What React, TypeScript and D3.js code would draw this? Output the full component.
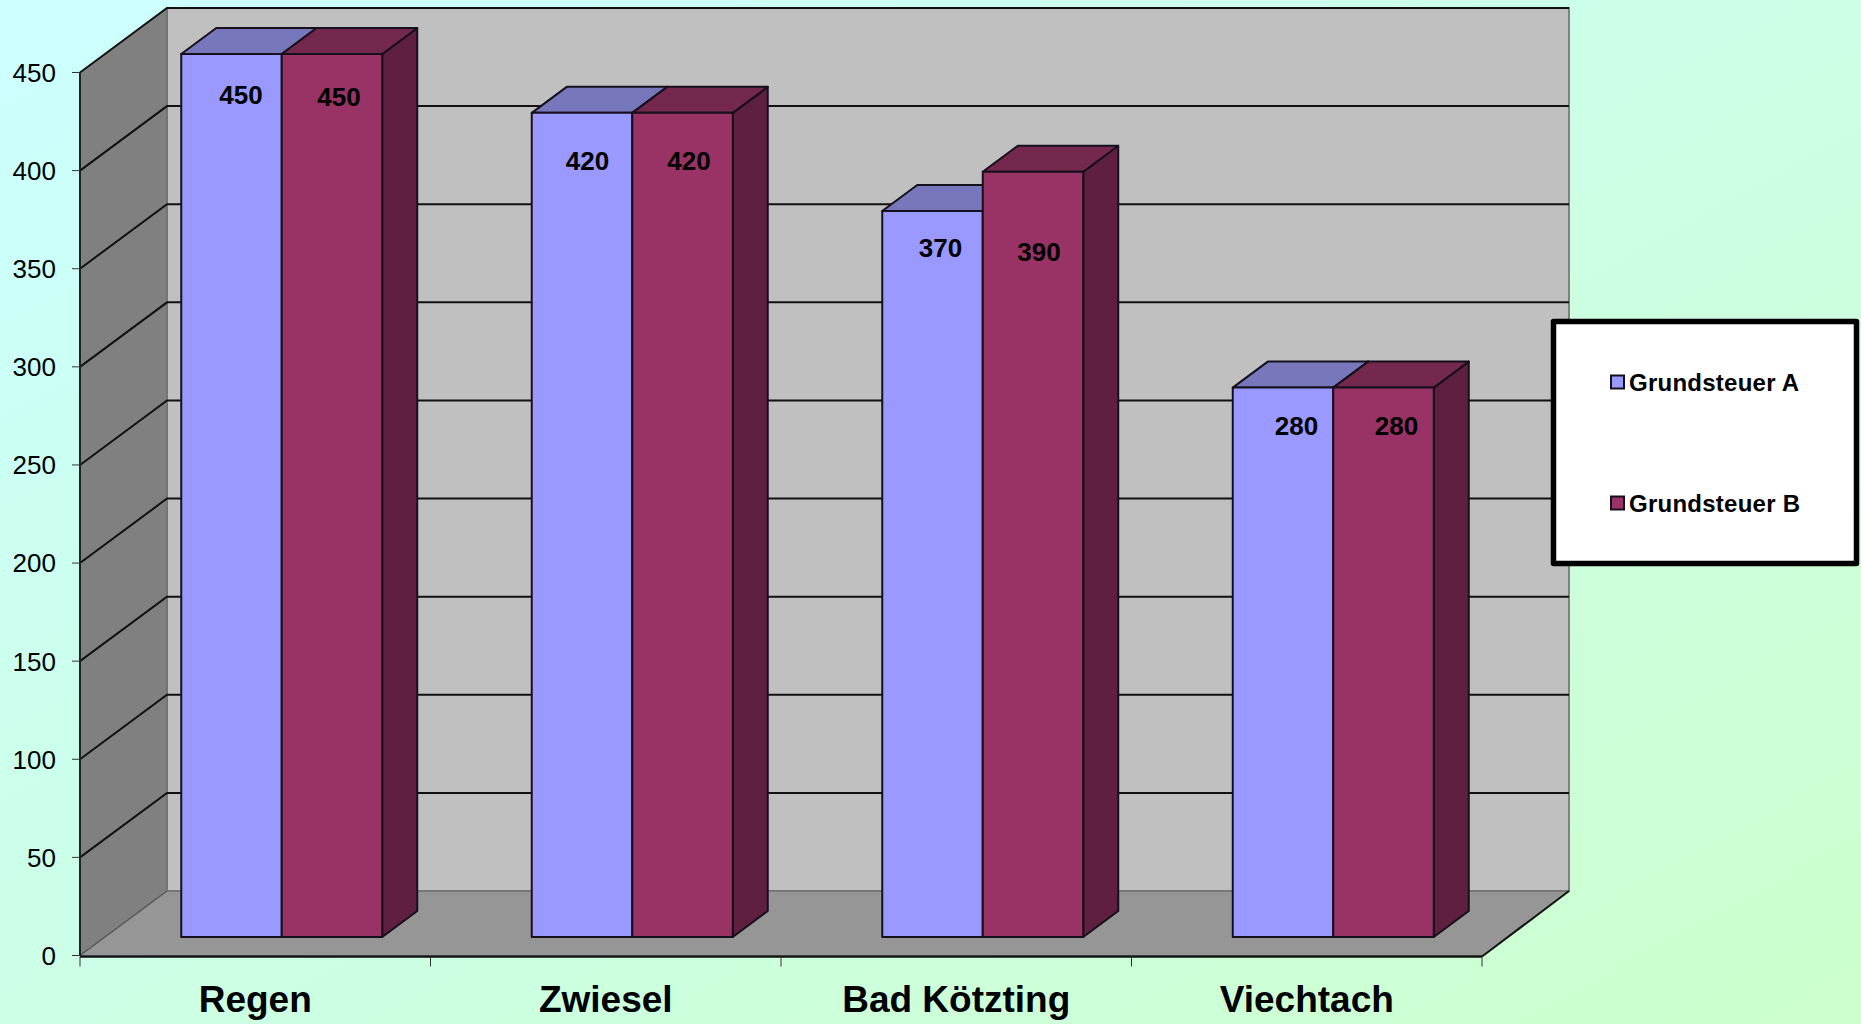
import React from "react";
import * as d3 from "d3";

const categories = ["Regen", "Zwiesel", "Bad Kötzting", "Viechtach"];
const seriesNames = ["Grundsteuer A", "Grundsteuer B"];
const grundsteuerA = [450, 420, 370, 280];
const grundsteuerB = [450, 420, 390, 280];
const yTicks = [0, 50, 100, 150, 200, 250, 300, 350, 400, 450];

const W = 1861, H = 1024;
const FONT = "'Liberation Sans', Arial, sans-serif";
const INK = "#15101c";
const depth = { dx: 87, dy: -64.5 };
const barFront = { dx: 26.5, dy: -18.5 };
const barDepth = { dx: 35, dy: -26 };
const fills = [
  { front: "#9999ff", top: "#7777bb", side: "#5a5a99" },
  { front: "#993366", top: "#75284e", side: "#5f1f3f" },
];
// label nudges relative to the bar's top-centre, [series][category]
const labelDX = [[9.5, 5.5, 8, 13.5], [7, 6.5, 6, 13]];
const labelDY = [[40.5, 47.4, 36.8, 38.2], [42.5, 47.4, 80, 38.2]];

const x = d3.scaleBand<string>().domain(categories).range([80, 1482]);
const y = d3.scaleLinear().domain([0, 450]).range([955.5, 72.5]);
const values = [grundsteuerA, grundsteuerB];
const line = d3.line();

function poly(pts: [number, number][]) {
  return line(pts) + "Z";
}

export default function App() {
  const x0 = x.range()[0], x1 = x.range()[1];
  const y0 = y(0), yMax = y(450);
  const groupW = 201;
  const inner = d3.scaleBand<number>().domain([0, 1]).range([0, groupW]);
  const base = y0 + barFront.dy;
  return (
    <svg width={W} height={H} viewBox={`0 0 ${W} ${H}`} style={{ position: "absolute", left: 0, top: 0, display: "block" }}>
      <defs>
        <linearGradient id="bg" x1="0" y1="0" x2="1" y2="1">
          <stop offset="0" stopColor="#ccffff" />
          <stop offset="1" stopColor="#ccffcc" />
        </linearGradient>
      </defs>
      <rect width={W} height={H} fill="url(#bg)" />

      {/* back wall */}
      <rect x={x0 + depth.dx} y={yMax + depth.dy} width={x1 - x0} height={y0 - yMax} fill="#c0c0c0" stroke="#808080" strokeWidth={2} />
      {/* left wall */}
      <path d={poly([[x0, y0], [x0, yMax], [x0 + depth.dx, yMax + depth.dy], [x0 + depth.dx, y0 + depth.dy]])} fill="#808080" />
      {/* floor */}
      <path d={poly([[x0, y0], [x1, y0], [x1 + depth.dx, y0 + depth.dy], [x0 + depth.dx, y0 + depth.dy]])} fill="#969696" />
      <line x1={x0 + depth.dx} x2={x1 + depth.dx} y1={y0 + depth.dy} y2={y0 + depth.dy} stroke="#707070" strokeWidth={1.5} />
      <line x1={x0} x2={x0 + depth.dx} y1={y0} y2={y0 + depth.dy} stroke="#555" strokeWidth={1.5} />
      <line x1={x0 + depth.dx} x2={x0 + depth.dx} y1={yMax + depth.dy} y2={y0 + depth.dy} stroke="#707070" strokeWidth={1.5} />

      {/* grid */}
      {yTicks.filter((t) => t > 0).map((t) => (
        <g key={t} fill="none" stroke="#111" strokeWidth={2}>
          <path d={line([[x0, y(t)], [x0 + depth.dx, y(t) + depth.dy], [x1 + depth.dx, y(t) + depth.dy]]) as string} />
        </g>
      ))}

      {/* axes */}
      <line x1={x0} x2={x0} y1={yMax} y2={y0} stroke="#222" strokeWidth={2} />
      <line x1={x0} x2={x1} y1={y0 + 1} y2={y0 + 1} stroke="#111" strokeWidth={2.5} />
      <line x1={x1} x2={x1 + depth.dx} y1={y0 + 1} y2={y0 + depth.dy} stroke="#111" strokeWidth={2} />
      {yTicks.map((t) => (
        <g key={t}>
          <line x1={72} x2={x0} y1={y(t)} y2={y(t)} stroke="#333" strokeWidth={1} />
          <text x={56} y={y(t)} dy="0.36em" textAnchor="end" fontFamily={FONT} fontSize={26} fill="#000">{t}</text>
        </g>
      ))}
      {[...categories.map((c) => x(c) as number), x1].map((px) => (
        <line key={px} x1={px} x2={px} y1={y0 + 1} y2={y0 + 11} stroke="#333" strokeWidth={1} />
      ))}
      {categories.map((c) => (
        <text key={c} x={(x(c) as number) + x.bandwidth() / 2} y={1012} textAnchor="middle" fontFamily={FONT} fontWeight="bold" fontSize={37} fill="#000">{c}</text>
      ))}

      {/* bars */}
      {categories.map((c, ci) => {
        const left = (x(c) as number) + (x.bandwidth() - groupW) / 2 + barFront.dx;
        return (
          <g key={c}>
            {values.map((vals, si) => {
              const bx = left + (inner(si) as number), bw = inner.bandwidth();
              const top = y(vals[ci]) + barFront.dy;
              const { dx, dy } = barDepth;
              return (
                <g key={si} stroke={INK} strokeWidth={2} strokeLinejoin="round">
                  <path d={poly([[bx + bw, top], [bx + bw + dx, top + dy], [bx + bw + dx, base + dy], [bx + bw, base]])} fill={fills[si].side} />
                  <path d={poly([[bx, top], [bx + dx, top + dy], [bx + bw + dx, top + dy], [bx + bw, top]])} fill={fills[si].top} />
                  <rect x={bx} y={top} width={bw} height={base - top} fill={fills[si].front} />
                </g>
              );
            })}
          </g>
        );
      })}
      {categories.map((c, ci) => {
        const left = (x(c) as number) + (x.bandwidth() - groupW) / 2 + barFront.dx;
        return values.map((vals, si) => (
          <text key={c + si}
            x={left + (inner(si) as number) + inner.bandwidth() / 2 + labelDX[si][ci]}
            y={y(vals[ci]) + barFront.dy + labelDY[si][ci]}
            dy="0.36em" textAnchor="middle" fontFamily={FONT} fontWeight="bold" fontSize={26} fill="#000">{vals[ci]}</text>
        ));
      })}

      {/* legend */}
      <rect x={1553.5} y={321.5} width={303} height={242} fill="#fff" stroke="#000" strokeWidth={5.5} strokeLinejoin="round" />
      {seriesNames.map((n, i) => {
        const cy = i === 0 ? 382 : 503;
        return (
          <g key={n}>
            <rect x={1611} y={cy - 6.5} width={13} height={13} fill={fills[i].front} stroke={INK} strokeWidth={2} />
            <text x={1629} y={cy} dy="0.36em" fontFamily={FONT} fontWeight="bold" fontSize={24} fill="#000" letterSpacing={0.25}>{n}</text>
          </g>
        );
      })}
    </svg>
  );
}
